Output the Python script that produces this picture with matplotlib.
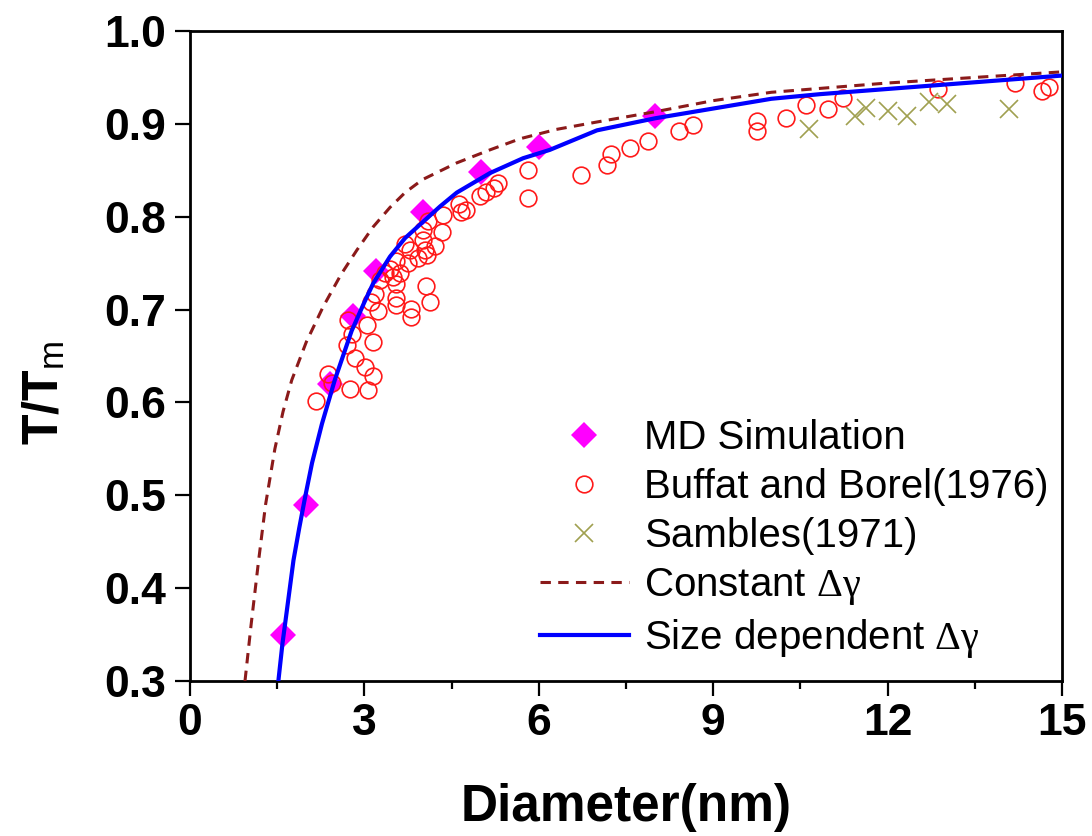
import matplotlib
matplotlib.use("Agg")
import matplotlib.pyplot as plt
from matplotlib.ticker import MultipleLocator

plt.rcParams['font.family'] = ['Liberation Sans', 'DejaVu Sans']
plt.rcParams['mathtext.fontset'] = 'custom'
plt.rcParams['mathtext.rm'] = 'Liberation Serif'
plt.rcParams['mathtext.it'] = 'Liberation Serif'
plt.rcParams['mathtext.sf'] = 'Liberation Sans'
plt.rcParams['mathtext.default'] = 'rm'

# MD simulation
md_d = [1.6, 2.0, 2.4, 2.8, 3.2, 4.0, 5.0, 6.0, 8.0]
md_t = [0.35, 0.49, 0.62, 0.693, 0.742, 0.805, 0.848, 0.875, 0.908]

# Buffat and Borel (1976)
bb_d = [5.82, 5.82, 4.98, 5.10, 5.23, 5.30, 4.62, 4.67, 4.75, 4.36,
        4.10, 4.33, 4.01, 4.01, 3.70, 4.21, 4.04, 3.78, 4.07, 3.93,
        3.75, 3.55, 3.44, 3.61, 3.50, 3.35, 3.27, 3.55, 4.06, 4.13,
        3.54, 3.54, 3.81, 3.81, 3.18, 3.12, 3.24, 2.72, 3.04, 2.78,
        2.70, 3.15, 2.84, 3.01, 3.14, 2.38, 2.44, 2.75, 3.07, 2.17,
        6.73, 7.18, 7.24, 7.57, 7.88, 8.42, 8.66, 9.76, 9.76, 10.26,
        10.60, 10.98, 11.24, 12.86, 14.20, 14.66, 14.78]
bb_t = [0.850, 0.820, 0.822, 0.827, 0.831, 0.836, 0.814, 0.805, 0.807, 0.802,
        0.795, 0.784, 0.786, 0.775, 0.771, 0.768, 0.764, 0.764, 0.759, 0.755,
        0.750, 0.752, 0.744, 0.739, 0.735, 0.739, 0.732, 0.728, 0.725, 0.708,
        0.712, 0.705, 0.701, 0.692, 0.717, 0.708, 0.698, 0.689, 0.683, 0.674,
        0.662, 0.665, 0.648, 0.638, 0.628, 0.631, 0.621, 0.614, 0.613, 0.602,
        0.845, 0.856, 0.867, 0.874, 0.881, 0.892, 0.899, 0.903, 0.892, 0.906,
        0.920, 0.916, 0.928, 0.938, 0.944, 0.935, 0.940]

# Sambles (1971)
sa_d = [10.65, 11.44, 11.63, 12.01, 12.33, 12.72, 13.03, 14.08]
sa_t = [0.894, 0.908, 0.917, 0.914, 0.908, 0.924, 0.921, 0.916]

# Constant delta gamma model
cg_d = [0.946, 1.05, 1.175, 1.3, 1.46, 1.6, 1.75, 2.0, 2.29, 2.6,
        2.87, 3.15, 3.44, 3.7, 4.0, 4.59, 5.16, 5.68, 6.3, 7.0,
        8.0, 9.0, 10.0, 12.0, 15.0]
cg_t = [0.30, 0.36, 0.427, 0.49, 0.55, 0.59, 0.624, 0.665, 0.703, 0.738,
        0.764, 0.789, 0.81, 0.826, 0.84, 0.858, 0.872, 0.884, 0.894, 0.902,
        0.913, 0.925, 0.934, 0.944, 0.956]

# Size dependent delta gamma model
sd_d = [1.52, 1.59, 1.66, 1.78, 1.88, 1.98, 2.1, 2.27, 2.49, 2.78,
        3.0, 3.15, 3.44, 3.7, 4.0, 4.3, 4.59, 5.16, 5.73, 6.19,
        7.0, 8.0, 10.0, 10.84, 15.0]
sd_t = [0.30, 0.34, 0.373, 0.43, 0.465, 0.498, 0.535, 0.577, 0.624, 0.677,
        0.708, 0.728, 0.757, 0.777, 0.794, 0.811, 0.826, 0.847, 0.863, 0.872,
        0.893, 0.906, 0.927, 0.932, 0.952]

fig = plt.figure(figsize=(10.92, 8.36), dpi=100)
ax = fig.add_axes([190/1092, 1-681/836, (1062-190)/1092, (681-31)/836])

ax.plot(md_d, md_t, linestyle='none', marker='D', markersize=13.5,
        color='#FF00FF', markeredgewidth=0, label='MD Simulation', zorder=2)
ax.plot(bb_d, bb_t, linestyle='none', marker='o', markersize=12,
        markerfacecolor='none', markeredgecolor='#FF1A1A', markeredgewidth=1.2,
        label='Buffat and Borel(1976)', zorder=3)
ax.plot(sa_d, sa_t, linestyle='none', marker='x', markersize=13,
        color='#A0A050', markeredgewidth=1.2, label='Sambles(1971)', zorder=3)
ax.plot(cg_d, cg_t, linestyle=(0, (3.4, 2.4)), color='#8B1A1A', linewidth=2.2,
        label=r'Constant $\Delta\gamma$', zorder=4)
ax.plot(sd_d, sd_t, linestyle='-', color='#0000FF', linewidth=3.0,
        label=r'Size dependent $\Delta\gamma$', zorder=5)

ax.set_xlim(0, 15)
ax.set_ylim(0.3, 1.0)
ax.xaxis.set_major_locator(MultipleLocator(3))
ax.xaxis.set_minor_locator(MultipleLocator(1.5))
ax.set_yticks([0.3, 0.4, 0.5, 0.6, 0.7, 0.8, 0.9, 1.0])
ax.set_yticklabels(['0.3', '0.4', '0.5', '0.6', '0.7', '0.8', '0.9', '1.0'])

for s in ax.spines.values():
    s.set_linewidth(2.0)
ax.tick_params(axis='both', which='major', direction='out', length=10.5,
               width=1.6, labelsize=32)
ax.tick_params(axis='x', which='minor', direction='out', length=5.5, width=1.6)
ax.tick_params(axis='x', which='major', pad=5)
ax.tick_params(axis='y', which='major', pad=7)
for lab in ax.get_xticklabels() + ax.get_yticklabels():
    lab.set_fontweight('bold')

ax.set_xlabel('Diameter(nm)', fontsize=37, fontweight='bold')
ax.xaxis.set_label_coords(0.5, -(783 - 681) / 650)
ax.set_ylabel(r'T/T$_\mathsf{m}$', fontsize=36, fontweight='bold')
ax.yaxis.set_label_coords(-(190 - 68) / 872, (681 - 393) / 650)

leg = ax.legend(loc='upper left', bbox_to_anchor=(540/1092, 1-419/836),
                bbox_transform=fig.transFigure, frameon=False, fontsize=29,
                handlelength=2.2, handletextpad=0.38, labelspacing=0.27,
                borderpad=0, borderaxespad=0, numpoints=1)

fig.savefig('out.png', dpi=100)
